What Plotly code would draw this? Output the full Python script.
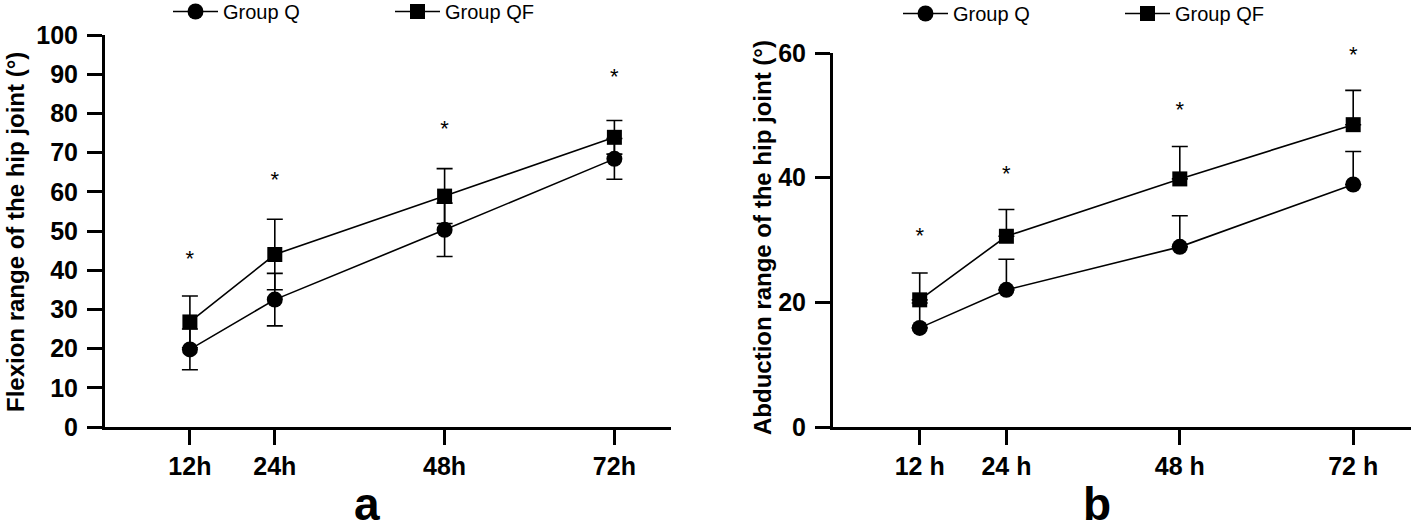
import plotly.graph_objects as go

# ---------------- data ----------------
hours = [12, 24, 48, 72]
hour_labels_a = ["12h", "24h", "48h", "72h"]
hour_labels_b = ["12 h", "24 h", "48 h", "72 h"]

# Panel a: flexion range (deg)
flex_q = [19.8, 32.5, 50.3, 68.4]
flex_q_sd = [5.2, 6.7, 6.8, 5.2]
flex_qf = [26.8, 44.0, 58.9, 73.9]
flex_qf_sd = [6.6, 9.0, 7.0, 4.3]
flex_star = [42.4, 62.6, 75.6, 89.0]

# Panel b: abduction range (deg)
abd_q = [15.9, 22.0, 28.9, 38.9]
abd_q_sd = [4.0, 4.9, 5.0, 5.3]
abd_qf = [20.4, 30.6, 39.8, 48.5]
abd_qf_sd = [4.3, 4.3, 5.2, 5.5]
abd_star = [30.4, 40.4, 50.6, 59.4]

series_names = ["Group Q", "Group QF"]

FONT = "Liberation Sans, Arial, sans-serif"
W, H = 1415, 532

fig = go.Figure()

def add_panel(xa, ya, legend, q, qsd, qf, qfsd, star, symmetric):
    fig.add_trace(go.Scatter(
        x=hours, y=q, name=series_names[0], mode="lines+markers",
        xaxis=xa, yaxis=ya, legend=legend,
        line=dict(color="black", width=1.6),
        marker=dict(symbol="circle", size=16, color="black"),
        error_y=dict(type="data", array=qsd,
                     arrayminus=qsd if symmetric else [0] * len(qsd),
                     symmetric=False, color="black", thickness=1.6, width=8),
    ))
    fig.add_trace(go.Scatter(
        x=hours, y=qf, name=series_names[1], mode="lines+markers",
        xaxis=xa, yaxis=ya, legend=legend,
        line=dict(color="black", width=1.6),
        marker=dict(symbol="square", size=15, color="black"),
        error_y=dict(type="data", array=qfsd,
                     arrayminus=qfsd if symmetric else [0] * len(qfsd),
                     symmetric=False, color="black", thickness=1.6, width=8),
    ))
    fig.add_trace(go.Scatter(
        x=hours, y=star, mode="text", text=["*"] * len(star),
        textfont=dict(family=FONT, size=22, color="black"),
        textposition="middle center", cliponaxis=False,
        xaxis=xa, yaxis=ya, showlegend=False, hoverinfo="skip",
    ))

add_panel("x", "y", "legend", flex_q, flex_q_sd, flex_qf, flex_qf_sd, flex_star, True)
add_panel("x2", "y2", "legend2", abd_q, abd_q_sd, abd_qf, abd_qf_sd, abd_star, False)

def px_x(p):
    return p / W

def px_y(p):
    return (H - p) / H

axis_common = dict(showline=True, linecolor="black", linewidth=3, mirror=False,
                   showgrid=False, zeroline=False, ticks="outside",
                   tickcolor="black", tickwidth=3)

fig.update_layout(
    width=W, height=H,
    margin=dict(l=0, r=0, t=0, b=0, autoexpand=False),
    paper_bgcolor="white", plot_bgcolor="white",
    font=dict(family=FONT, color="black"),
    xaxis=dict(domain=[px_x(105), px_x(671)], range=[0, 80], anchor="y",
               tickvals=hours, ticktext=hour_labels_a, ticklen=15,
               tickfont=dict(size=25, weight="bold", family=FONT), **axis_common),
    yaxis=dict(domain=[px_y(427), px_y(35)], range=[0, 100], anchor="x",
               tickvals=list(range(0, 101, 10)), ticklen=15, ticklabelstandoff=4,
               tickfont=dict(size=25, weight="bold", family=FONT), **axis_common),
    xaxis2=dict(domain=[px_x(833), px_x(1411)], range=[0, 80], anchor="y2",
                tickvals=hours, ticktext=hour_labels_b, ticklen=15,
                tickfont=dict(size=25, weight="bold", family=FONT), **axis_common),
    yaxis2=dict(domain=[px_y(427), px_y(53)], range=[0, 60], anchor="x2",
                tickvals=[0, 20, 40, 60], ticklen=15, ticklabelstandoff=4,
                tickfont=dict(size=25, weight="bold", family=FONT), **axis_common),
    legend=dict(orientation="h", x=px_x(168), y=px_y(-8), xanchor="left", yanchor="top",
                entrywidth=162, entrywidthmode="pixels", itemwidth=45,
                font=dict(size=20, family=FONT), bgcolor="rgba(0,0,0,0)"),
    legend2=dict(orientation="h", x=px_x(898), y=px_y(-6), xanchor="left", yanchor="top",
                 entrywidth=162, entrywidthmode="pixels", itemwidth=45,
                 font=dict(size=20, family=FONT), bgcolor="rgba(0,0,0,0)"),
    annotations=[
        dict(text="Flexion range of the hip joint (°)", textangle=-90,
             x=px_x(15), y=px_y(232), xref="paper", yref="paper",
             xanchor="center", yanchor="middle",
             showarrow=False, font=dict(size=24, weight="bold", family=FONT)),
        dict(text="Abduction range of the hip joint (°)", textangle=-90,
             x=px_x(763), y=px_y(238), xref="paper", yref="paper",
             xanchor="center", yanchor="middle",
             showarrow=False, font=dict(size=24, weight="bold", family=FONT)),
        dict(text="a", x=px_x(367), y=0, xref="paper", yref="paper",
             xanchor="center", yanchor="bottom",
             showarrow=False, font=dict(size=46, weight="bold", family=FONT)),
        dict(text="b", x=px_x(1097), y=0, xref="paper", yref="paper",
             xanchor="center", yanchor="bottom",
             showarrow=False, font=dict(size=46, weight="bold", family=FONT)),
    ],
)

fig.write_html(
    "out.html",
    config={"displayModeBar": False},
    post_script="document.body.style.margin='0';document.body.style.overflow='hidden';",
)
